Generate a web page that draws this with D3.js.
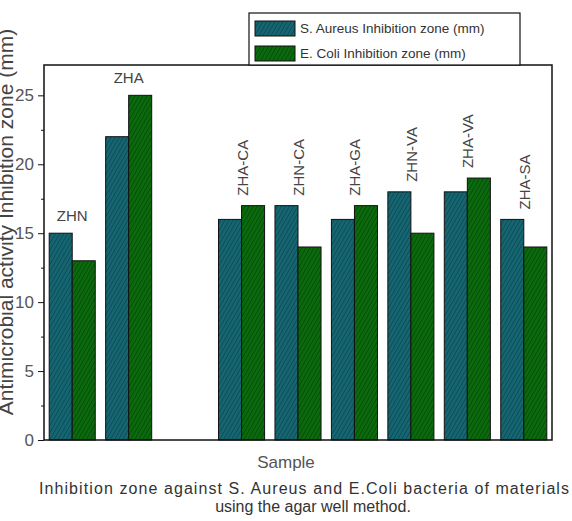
<!DOCTYPE html>
<html>
<head>
<meta charset="utf-8">
<script src="https://cdn.jsdelivr.net/npm/d3@7"></script>
<style>
  html, body { margin: 0; padding: 0; background: #fff; }
  svg { display: block; font-family: "Liberation Sans", Arial, sans-serif; }
</style>
</head>
<body>
<svg id="chart" width="572" height="521"></svg>
<script>
// ---- data ----
const categories = ["ZHN", "ZHA", "", "ZHA-CA", "ZHN-CA", "ZHA-GA", "ZHN-VA", "ZHA-VA", "ZHA-SA"];
const sAureus = [15, 22, null, 16, 17, 16, 18, 18, 16];
const eColi   = [13, 25, null, 17, 14, 17, 15, 19, 14];
const seriesNames = ["S. Aureus Inhibition zone (mm)", "E. Coli Inhibition zone (mm)"];
const yTicks = [0, 5, 10, 15, 20, 25];
const yMinorTicks = [2.5, 7.5, 12.5, 17.5, 22.5];
const yLabel = "Antimicrobial activity Inhibition zone (mm)";
const xLabel = "Sample";
const caption = ["Inhibition zone against S. Aureus and E.Coli bacteria of materials", "using the agar well method."];

const svg = d3.select("#chart");
const pLeft = 44, pRight = 552, pTop = 65, pBottom = 440;

const x = d3.scaleBand().domain(categories).range([pLeft, pRight]).paddingInner(0.184).paddingOuter(0.092);
const xs = d3.scaleBand().domain([0, 1]).range([0, x.bandwidth()]);
const y = d3.scaleLinear().domain([0, 27.2]).range([pBottom, pTop]);

// patterns
const defs = svg.append("defs");
const fills = [{base: "#156672", line: "#0a3f46"}, {base: "#0b6a0d", line: "#033f04"}];
fills.forEach((f, i) => {
  const p = defs.append("pattern").attr("id", "hatch" + i).attr("patternUnits", "userSpaceOnUse")
    .attr("width", 3.5).attr("height", 3.5).attr("patternTransform", "rotate(30)");
  p.append("rect").attr("width", 3.5).attr("height", 3.5).attr("fill", f.base);
  p.append("line").attr("x1", 0).attr("y1", 0).attr("x2", 0).attr("y2", 3.5)
    .attr("stroke", f.line).attr("stroke-width", 1.2);
});

// bars
const series = [sAureus, eColi];
series.forEach((vals, si) => {
  svg.append("g").selectAll("rect")
    .data(categories.map((c, i) => ({c, v: vals[i]})).filter(d => d.v != null))
    .join("rect")
    .attr("x", d => x(d.c) + xs(si))
    .attr("y", d => y(d.v))
    .attr("width", xs.bandwidth())
    .attr("height", d => y(0) - y(d.v))
    .attr("fill", `url(#hatch${si})`)
    .attr("stroke", "#111")
    .attr("stroke-width", 1);
});

// category labels
const horiz = ["ZHN", "ZHA"];
categories.forEach((c, i) => {
  if (!c) return;
  const maxV = Math.max(sAureus[i], eColi[i]);
  if (horiz.includes(c)) {
    svg.append("text")
      .attr("x", x(c) + x.bandwidth() / 2)
      .attr("y", y(maxV) - 12)
      .attr("text-anchor", "middle")
      .attr("font-size", 15).attr("fill", "#444")
      .text(c);
  } else {
    const cx = x(c) + x.bandwidth() / 2 + 6;
    const by = y(maxV) - 10;
    svg.append("text")
      .attr("transform", `translate(${cx},${by}) rotate(-90)`)
      .attr("text-anchor", "start")
      .attr("font-size", 15).attr("fill", "#444")
      .text(c);
  }
});

// frame
svg.append("rect").attr("x", pLeft).attr("y", pTop).attr("width", pRight - pLeft).attr("height", pBottom - pTop)
  .attr("fill", "none").attr("stroke", "#111").attr("stroke-width", 1.5);

// y axis
const yAxis = d3.axisLeft(y).tickValues(yTicks).tickSize(6).tickPadding(4);
const gy = svg.append("g").attr("transform", `translate(${pLeft},0)`).call(yAxis);
gy.select(".domain").remove();
gy.selectAll("text").attr("font-size", 17).attr("fill", "#555").attr("font-family", "Liberation Sans, Arial, sans-serif");
gy.selectAll("line").attr("stroke", "#111");
const gyMinor = svg.append("g").attr("transform", `translate(${pLeft},0)`)
  .call(d3.axisLeft(y).tickValues(yMinorTicks).tickSize(3).tickFormat(""));
gyMinor.select(".domain").remove();
gyMinor.selectAll("line").attr("stroke", "#111");

// y label
svg.append("text")
  .attr("transform", `translate(13,222) rotate(-90)`)
  .attr("text-anchor", "middle")
  .attr("font-size", 21).attr("fill", "#444")
  .text(yLabel);

// x label
svg.append("text").attr("x", 286).attr("y", 468).attr("text-anchor", "middle")
  .attr("font-size", 17).attr("fill", "#555").text(xLabel);

// caption
caption.forEach((t, i) => {
  const tx = svg.append("text").attr("x", i === 0 ? 304 : 313).attr("y", 494 + i * 18).attr("text-anchor", "middle")
    .attr("font-size", 16).attr("fill", "#333").text(t);
  if (i === 0) tx.attr("textLength", 530).attr("lengthAdjust", "spacing");
});

// legend
const lg = svg.append("g");
lg.append("rect").attr("x", 249).attr("y", 13).attr("width", 271).attr("height", pTop - 13)
  .attr("fill", "#fff").attr("stroke", "#111").attr("stroke-width", 1.2);
seriesNames.forEach((n, i) => {
  const yy = 21 + i * 25;
  lg.append("rect").attr("x", 255).attr("y", yy).attr("width", 40).attr("height", 15)
    .attr("fill", `url(#hatch${i})`).attr("stroke", "#111").attr("stroke-width", 1);
  lg.append("text").attr("x", 300).attr("y", yy + 12).attr("font-size", 13.5).attr("fill", "#333").text(n);
});
</script>
</body>
</html>
